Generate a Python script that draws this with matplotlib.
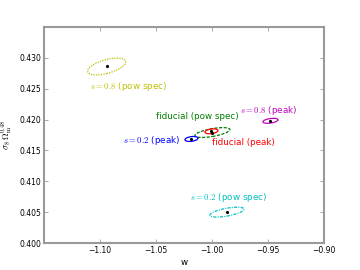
import matplotlib
matplotlib.use('Agg')
import numpy as np
import matplotlib.pyplot as plt
from matplotlib.patches import Circle
from matplotlib.transforms import Affine2D

plt.rcParams['mathtext.fontset'] = 'cm'

# 椭圆: 中心 w, 中心 sigma8*Om^0.48, w 半宽, y 半高, 相关系数
names = ['s08_pow', 'fid_pow', 'fid_peak', 's02_peak', 's08_peak', 's02_pow']
cen_w = [-1.094, -0.9996, -1.0005, -1.0183, -0.9478, -0.9866]
cen_s = [0.4286, 0.4179, 0.4181, 0.41686, 0.4198, 0.4050]
half_w = [0.017, 0.0156, 0.0058, 0.0058, 0.0067, 0.0152]
half_s = [0.00137, 0.0008, 0.0004, 0.0004, 0.0004, 0.0008]
rho = [0.55, 0.6, 0.3, 0.3, 0.4, 0.6]
colors = ['y', 'g', 'r', 'b', 'm', 'c']
styles = [(0, (1, 1)), (0, (2.5, 1.2)), '-', '-', '-', (0, (2.5, 1, 0.8, 1))]

labels = ['$s=0.8$ (pow spec)', 'fiducial (pow spec)', 'fiducial (peak)',
          '$s=0.2$ (peak)', '$s=0.8$ (peak)', '$s=0.2$ (pow spec)']
label_w = [-1.1089, -1.05, -1.0, -1.0795, -0.975, -1.0196]
label_s = [0.42532, 0.42048, 0.41629, 0.41661, 0.42145, 0.40742]

fig = plt.figure(figsize=(3.6, 2.7), dpi=100)
ax = fig.add_axes([0.122, 0.1, 0.778, 0.8])

for i in range(len(names)):
    # 单位圆 -> 协方差椭圆
    m = np.array([[half_w[i], 0.0, cen_w[i]],
                  [half_s[i] * rho[i], half_s[i] * np.sqrt(1 - rho[i] ** 2), cen_s[i]],
                  [0.0, 0.0, 1.0]])
    c = Circle((0, 0), 1.0, fill=False, edgecolor=colors[i], linestyle=styles[i],
               linewidth=0.9, transform=Affine2D(m) + ax.transData)
    ax.add_patch(c)
    ax.plot(cen_w[i], cen_s[i], 'k.', markersize=2.5)
    ax.text(label_w[i], label_s[i], labels[i], color=colors[i], fontsize=6.3,
            ha='left', va='center')

ax.set_xlim(-1.15, -0.90)
ax.set_ylim(0.400, 0.435)
ax.set_xticks([-1.10, -1.05, -1.00, -0.95, -0.90])
ax.set_xticklabels(['\u22121.10', '\u22121.05', '\u22121.00', '\u22120.95', '\u22120.90'])
ax.set_yticks([0.400, 0.405, 0.410, 0.415, 0.420, 0.425, 0.430])
ax.set_yticklabels(['0.400', '0.405', '0.410', '0.415', '0.420', '0.425', '0.430'])
ax.tick_params(direction='in', length=3, width=0.6, color='0.6', labelsize=5.5,
               top=True, right=True, pad=2)
for sp in ax.spines.values():
    sp.set_color('0.6')
    sp.set_linewidth(1.5)

ax.set_xlabel('w', fontsize=6.3, labelpad=2)
ax.set_ylabel(r'$\sigma_8\,\Omega_{\rm m}^{0.48}$', fontsize=6.5, labelpad=3)

plt.savefig('out.png', dpi=100)
